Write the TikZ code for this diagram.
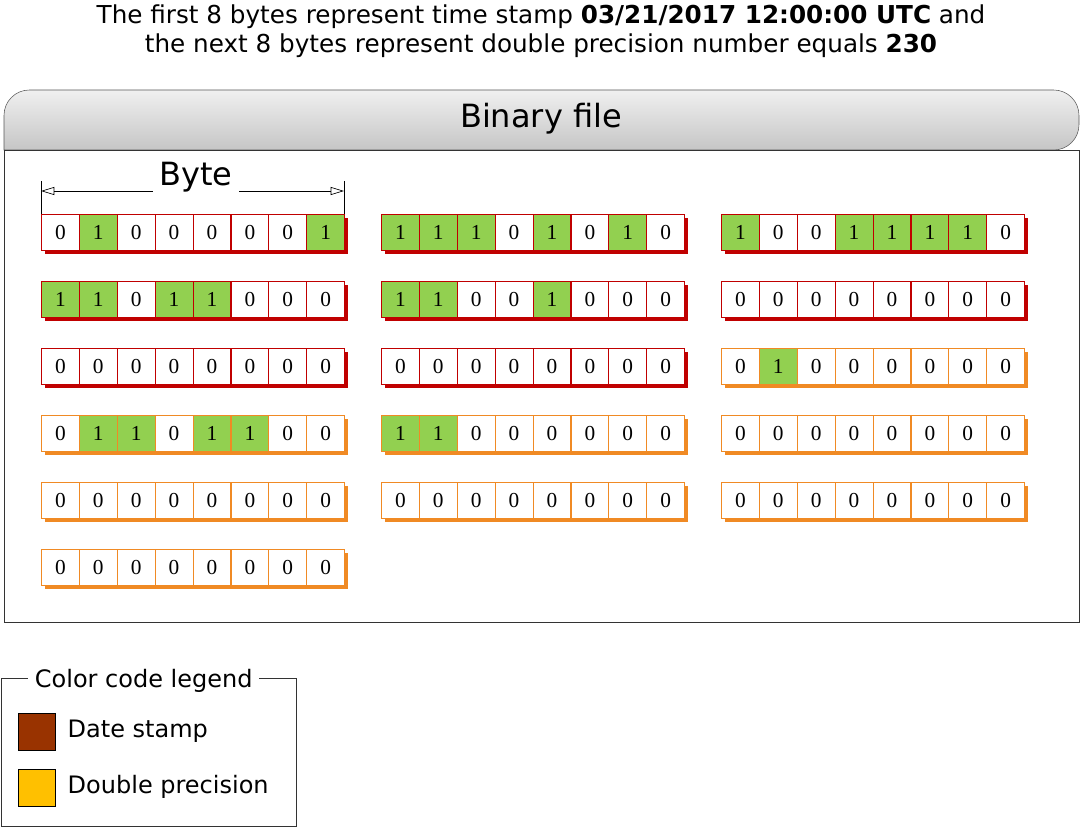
\documentclass[tikz,border=0pt]{standalone}
\usepackage{fontspec}
\setmainfont{DejaVu Sans}
\newfontfamily\digitfont{Liberation Serif}
\usetikzlibrary{arrows.meta}
\definecolor{datered}{HTML}{C00000}
\definecolor{dblorange}{HTML}{F08A24}
\definecolor{bitgreen}{HTML}{92D050}
\definecolor{legdate}{HTML}{993300}
\definecolor{legdbl}{HTML}{FFC000}
\tikzset{
  cell/.style={draw=#1, line width=0.6pt, minimum width=28.4pt, minimum height=27pt, inner sep=0pt, anchor=north west, font=\digitfont\fontsize{16}{16}\selectfont},
}
\newcommand{\bytebox}[4]{% x, y, color, bits
  \fill[#3] (#1+4,#2+4) rectangle (#1+307,#2+40);
  \foreach \b [count=\i from 0] in {#4}{
    \ifnum\b=1 \def\fc{bitgreen}\else\def\fc{white}\fi
    \node[cell=#3, fill=\fc] (b#1-#2-\i) at (#1+\i*37.9,#2) {\b};
  }
}
\begin{document}
\begin{tikzpicture}[x=0.75pt,y=-0.75pt]
\useasboundingbox (0,0) rectangle (1081,827);
\node[font=\fontsize{18.5}{22}\selectfont, align=center] (title) at (541,31) {The first 8 bytes represent time stamp \textbf{03/21/2017 12:00:00 UTC} and\\the next 8 bytes represent double precision number equals \textbf{230}};
% binary file box
\draw[gray!70!black, top color=gray!12, bottom color=gray!45, rounded corners=19pt] (4,150) -- (4,90) -- (1079,90) -- (1079,150) [sharp corners] -- cycle;
\draw[black!80, line width=0.6pt] (4,150) rectangle (1079,622);
\node[font=\fontsize{24}{24}\selectfont] (hdr) at (541,119) {Binary file};
% byte dimension
\coordinate (bl) at (41,191); \coordinate (br) at (344,191);
\draw[line width=0.5pt] (41,181) -- (41,214) (344,181) -- (344,214);
\draw[line width=0.5pt, {Triangle[open,length=10pt,width=6pt]}-{Triangle[open,length=10pt,width=6pt]}] (bl) -- (br);
\node[fill=white, font=\fontsize{24}{24}\selectfont, inner xsep=5pt] (bytelbl) at (196,177) {Byte};
% bytes
\bytebox{41}{214}{datered}{0,1,0,0,0,0,0,1}
\bytebox{381}{214}{datered}{1,1,1,0,1,0,1,0}
\bytebox{721}{214}{datered}{1,0,0,1,1,1,1,0}
\bytebox{41}{281}{datered}{1,1,0,1,1,0,0,0}
\bytebox{381}{281}{datered}{1,1,0,0,1,0,0,0}
\bytebox{721}{281}{datered}{0,0,0,0,0,0,0,0}
\bytebox{41}{348}{datered}{0,0,0,0,0,0,0,0}
\bytebox{381}{348}{datered}{0,0,0,0,0,0,0,0}
\bytebox{721}{348}{dblorange}{0,1,0,0,0,0,0,0}
\bytebox{41}{415}{dblorange}{0,1,1,0,1,1,0,0}
\bytebox{381}{415}{dblorange}{1,1,0,0,0,0,0,0}
\bytebox{721}{415}{dblorange}{0,0,0,0,0,0,0,0}
\bytebox{41}{482}{dblorange}{0,0,0,0,0,0,0,0}
\bytebox{381}{482}{dblorange}{0,0,0,0,0,0,0,0}
\bytebox{721}{482}{dblorange}{0,0,0,0,0,0,0,0}
\bytebox{41}{549}{dblorange}{0,0,0,0,0,0,0,0}
% legend
\draw[black!80, line width=0.6pt] (1,678) rectangle (296,826);
\node[fill=white, font=\fontsize{18}{18}\selectfont, anchor=west, inner xsep=5pt] (legt) at (28,681) {Color code legend};
\node[draw=black, fill=legdate, minimum size=28pt, inner sep=0pt, anchor=north west] (sw1) at (18,713) {};
\node[draw=black, fill=legdbl, minimum size=28pt, inner sep=0pt, anchor=north west] (sw2) at (18,769) {};
\node[font=\fontsize{18}{18}\selectfont, anchor=west] (l1) at (63,731) {Date stamp};
\node[font=\fontsize{18}{18}\selectfont, anchor=west] (l2) at (63,787) {Double precision};
\end{tikzpicture}
\end{document}
